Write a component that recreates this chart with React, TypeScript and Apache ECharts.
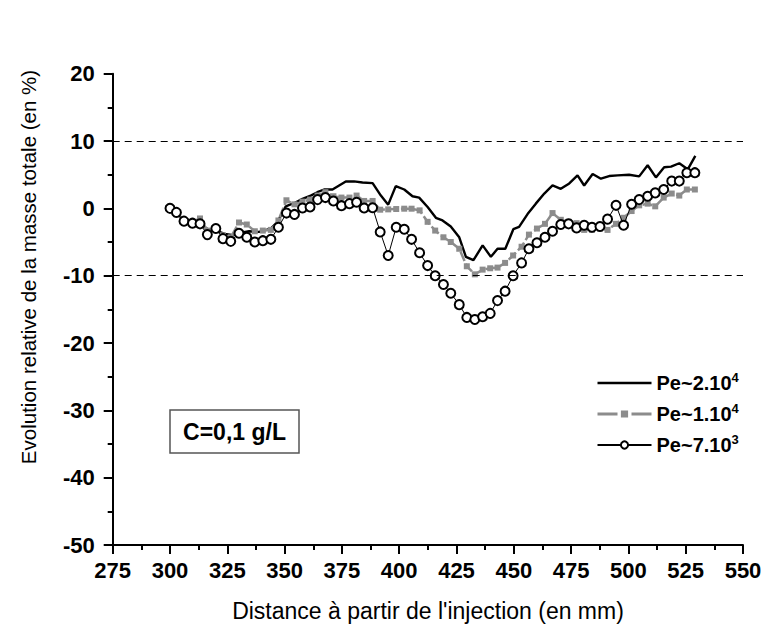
import React, { useEffect, useRef } from 'react';
import * as echarts from 'echarts';

const FONT = '"Liberation Sans", Arial, Helvetica, sans-serif';

// Tick settings
const xMin = 275;
const xMax = 550;
const xStep = 25;
const yMin = -50;
const yMax = 20;
const yStep = 10;

// Pe~2.10^4 (solid black line)
const pe2Positions = [300, 303, 306.5, 310, 313.5, 317, 320.5, 324, 327.5, 331, 334.5, 338.9, 344, 346.9, 350.5, 354.3, 357.8, 361.4, 364.3, 367.2, 370.9, 373.8, 376.7, 380.3, 384, 388.4, 392, 395.2, 398.5, 402.2, 405.8, 408.7, 412.4, 416, 418.9, 422.5, 426.2, 429.1, 432.4, 436.4, 440, 442.9, 446.3, 449.8, 452.3, 456, 459.6, 463.3, 466.9, 470.5, 474.2, 477.8, 480.7, 484.4, 488, 491.6, 495.3, 500.3, 504.7, 508.4, 512, 515.6, 518.6, 522.2, 525.9, 529.2];
const pe2Values = [-0.2, -0.9, -1.7, -2.1, -2.4, -3.2, -3.4, -3.8, -4.0, -3.6, -3.4, -3.5, -3.0, -2.0, 0.3, 0.8, 1.4, 1.9, 2.4, 2.8, 2.8, 3.4, 4.0, 4.0, 3.85, 3.75, 1.9, 0.55, 3.3, 2.8, 1.8, 1.6, 0.2, -1.4, -1.8, -2.7, -4.3, -7.2, -7.7, -5.5, -7.2, -6.0, -6.0, -3.1, -2.75, -0.85, 0.7, 2.2, 3.4, 2.9, 3.7, 4.9, 3.4, 5.1, 4.4, 4.8, 4.9, 5.0, 4.75, 6.4, 4.6, 6.1, 6.2, 6.7, 5.8, 7.8];

// Measurement positions shared by Pe~1.10^4 and Pe~7.10^3
const positions = [300, 302.8, 306.1, 309.8, 313.1, 316.3, 320, 323.1, 326.5, 330.1, 333.5, 337, 340.5, 344, 347.3, 350.8, 354.3, 357.8, 361.1, 364.4, 367.8, 371.3, 374.8, 378.3, 381.4, 384.7, 388.4, 391.7, 395.2, 398.7, 402.2, 405.4, 408.9, 412.4, 415.7, 419.3, 422.5, 426.2, 429.5, 433, 436.4, 439.7, 442.9, 446.2, 449.7, 453.4, 456.6, 460.1, 463.6, 466.9, 470.5, 473.9, 477.4, 480.7, 484.1, 487.6, 490.9, 494.6, 497.9, 501.4, 504.7, 508.4, 511.7, 515.4, 518.9, 522.2, 525.5, 529];

// Pe~1.10^4 (grey dashed with squares)
const pe1Values = [0, -0.6, -1.8, -2.0, -1.5, -3.3, -3.1, -4.0, -4.3, -2.1, -2.4, -3.4, -3.3, -3.2, -1.8, 1.2, 0.6, 1.0, 1.3, 1.9, 2.4, 1.8, 1.6, 1.6, 1.9, 1.1, 1.1, -0.2, -0.15, -0.1, -0.05, -0.05, -0.3, -2.0, -3.3, -4.3, -5.0, -6.0, -8.6, -9.8, -9.1, -8.9, -8.8, -8.1, -7.0, -5.7, -3.9, -3.0, -2.3, -0.7, -1.7, -2.0, -2.2, -3.2, -3.2, -3.0, -3.2, -2.3, -1.4, -0.4, 0.45, 0.7, 0.3, 1.6, 2.2, 1.9, 2.8, 2.8];

// Pe~7.10^3 (open circles)
const pe7Values = [0, -0.6, -1.9, -2.2, -2.3, -3.9, -3.0, -4.5, -4.9, -3.7, -4.3, -5.0, -4.8, -4.6, -2.8, -0.7, -0.9, 0.05, 0.2, 1.3, 1.6, 1.1, 0.4, 0.7, 0.9, 0.05, 0.1, -3.5, -7.0, -2.8, -3.1, -4.6, -6.6, -8.5, -10.0, -11.3, -12.6, -14.3, -16.2, -16.5, -16.1, -15.6, -13.7, -12.3, -10.0, -8.1, -6.0, -5.1, -4.3, -3.4, -2.4, -2.3, -2.9, -2.5, -2.8, -2.7, -1.6, 0.45, -2.5, 0.6, 1.3, 1.8, 2.3, 2.8, 4.05, 4.05, 5.3, 5.3];

// Reference dashed lines
const refLines = [10, -10];

const seriesNames = ['Pe~2.10^4', 'Pe~1.10^4', 'Pe~7.10^3'];
const legendLabels: Record<string, [string, string]> = {
  'Pe~2.10^4': ['Pe~2.10', '4'],
  'Pe~1.10^4': ['Pe~1.10', '4'],
  'Pe~7.10^3': ['Pe~7.10', '3'],
};

const xTitle = "Distance à partir de l'injection (en mm)";
const yTitle = 'Evolution relative de la masse totale (en %)';
const boxText = 'C=0,1 g/L';

const zip = (xs: number[], ys: number[]) => xs.map((x, i) => [x, ys[i]]);

export default function App() {
  const ref = useRef<HTMLDivElement>(null);
  useEffect(() => {
    document.body.style.margin = '0';
    const chart = echarts.init(ref.current!, null, { renderer: 'svg' });
    const axisCommon = {
      type: 'value',
      axisLine: { show: true, onZero: false, lineStyle: { color: '#000', width: 2 } },
      axisTick: { show: true, inside: false, length: 9, lineStyle: { color: '#000', width: 2 } },
      minorTick: { show: true, splitNumber: 2, length: 5, lineStyle: { color: '#000', width: 2 } },
      splitLine: { show: false },
      minorSplitLine: { show: false },
    };
    chart.setOption({
      animation: false,
      backgroundColor: '#fff',
      grid: { left: 112.7, top: 73.7, width: 630.3, height: 471.3, containLabel: false },
      xAxis: {
        ...axisCommon,
        min: xMin,
        max: xMax,
        interval: xStep,
        axisLabel: { fontSize: 22, fontWeight: 'bold', color: '#000', fontFamily: FONT, margin: 14 },
      },
      yAxis: {
        ...axisCommon,
        min: yMin,
        max: yMax,
        interval: yStep,
        axisLabel: { fontSize: 22, fontWeight: 'bold', color: '#000', fontFamily: FONT, margin: 18 },
      },
      legend: {
        orient: 'vertical',
        left: 596,
        top: 371,
        padding: 0,
        itemWidth: 54,
        itemHeight: 9,
        itemGap: 9,
        selectedMode: false,
        data: [
          { name: seriesNames[0], icon: 'path://M0,0L54,0L54,2.4L0,2.4Z' },
          { name: seriesNames[1], lineStyle: { type: [20, 14], width: 3 } },
          { name: seriesNames[2] },
        ],
        formatter: (name: string) => {
          const [b, s] = legendLabels[name];
          return `{b|${b}}{s|${s}}`;
        },
        textStyle: {
          color: '#000',
          fontFamily: FONT,
          fontSize: 20,
          fontWeight: 'bold',
          rich: {
            b: { fontSize: 20, fontWeight: 'bold', fontFamily: FONT, color: '#000', lineHeight: 24 },
            s: { fontSize: 13, fontWeight: 'bold', fontFamily: FONT, color: '#000', lineHeight: 13, verticalAlign: 'top' },
          },
        },
      },
      graphic: [
        {
          type: 'text',
          x: 28,
          y: 267,
          rotation: Math.PI / 2,
          style: { text: yTitle, font: `20.5px ${FONT}`, fill: '#000', align: 'center', verticalAlign: 'middle' },
        },
        {
          type: 'text',
          x: 428,
          y: 611,
          style: { text: xTitle, font: `23px ${FONT}`, fill: '#000', align: 'center', verticalAlign: 'middle' },
        },
        {
          type: 'rect',
          shape: { x: 170, y: 410, width: 129, height: 43 },
          style: { fill: '#fff', stroke: '#555', lineWidth: 1.5 },
          z: 10,
        },
        {
          type: 'text',
          x: 234.5,
          y: 432,
          style: { text: boxText, font: `bold 23px ${FONT}`, fill: '#000', align: 'center', verticalAlign: 'middle' },
          z: 11,
        },
      ],
      series: [
        {
          name: seriesNames[0],
          type: 'line',
          data: zip(pe2Positions, pe2Values),
          symbol: 'none',
          lineStyle: { color: '#000', width: 2.4 },
          itemStyle: { color: '#000' },
          emphasis: { disabled: true },
          z: 2,
          markLine: {
            silent: true,
            symbol: ['none', 'none'],
            label: { show: false },
            lineStyle: { color: '#000', width: 1, type: [7, 5] },
            data: refLines.map((v) => ({ yAxis: v })),
          },
        },
        {
          name: seriesNames[1],
          type: 'line',
          data: zip(positions, pe1Values),
          symbol: 'rect',
          symbolSize: 6,
          itemStyle: { color: '#8c8c8c' },
          lineStyle: { color: '#8c8c8c', width: 2.5, type: [10, 3] },
          emphasis: { disabled: true },
          z: 3,
        },
        {
          name: seriesNames[2],
          type: 'line',
          data: zip(positions, pe7Values),
          symbol: 'circle',
          symbolSize: 9,
          itemStyle: { color: '#fff', borderColor: '#000', borderWidth: 2 },
          lineStyle: { color: '#000', width: 1 },
          emphasis: { disabled: true },
          z: 4,
        },
      ],
    });
    return () => chart.dispose();
  }, []);
  return <div ref={ref} style={{ width: 784, height: 626 }} />;
}
